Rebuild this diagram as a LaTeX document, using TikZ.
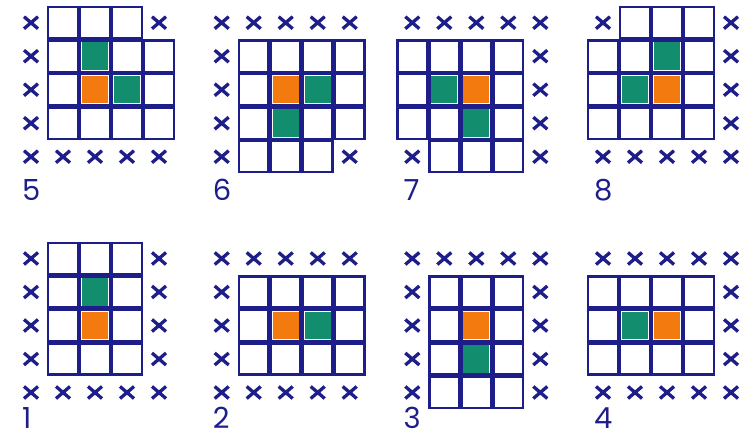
\documentclass[tikz,border=0pt]{standalone}
\usepackage{fontspec}
\newfontfamily\digitfont{Poppins}

\tikzset{
  cellbox/.style={draw=cNavy,line width=2.3pt},
  xmark/.style={draw=cNavy,line width=3.3pt},
  numlabel/.style={anchor=base west,inner sep=0pt,text=cNavy,
    font=\digitfont\fontsize{29}{29}\selectfont},
}

% #1,#2 centre of the top left cell, #3 baseline of the number,
% #4 number, #5 rows (X cross, B box, G green, O orange)
\newcommand\gridpanel[5]{%
  \begin{scope}[shift={(#1,#2)}]
    \foreach \cells [count=\ri from 0] in {#5} {
      \foreach \kind [count=\ci from 0] in \cells {
        \begin{scope}[shift={({32*\ci},{33.5*\ri})}]
          \if\kind X
            \draw[xmark] (-7,-6) -- (7,6) (-7,6) -- (7,-6);
          \else
            \if\kind G \fill[cGreen] (-13,-13.7) rectangle (13,13.7); \fi
            \if\kind O \fill[cOrange] (-13,-13.7) rectangle (13,13.7); \fi
            \draw[cellbox] (-14.85,-15.6) rectangle (14.85,15.6);
          \fi
        \end{scope}
      }
    }
    \node[numlabel] (num#4) at (-9,#3) {#4};
  \end{scope}}

\begin{document}
\begin{tikzpicture}[x=1pt,y=-1pt]
  \definecolor{cNavy}{RGB}{30,30,138}
  \definecolor{cGreen}{RGB}{18,142,110}
  \definecolor{cOrange}{RGB}{242,122,14}

  \fill[white] (0,0) rectangle (743,443);
  \useasboundingbox (0,0) rectangle (743,443);

  % top row
  \gridpanel{31}{22.7}{178}{5}{{X,B,B,B,X},{X,B,G,B,B},{X,B,O,G,B},{X,B,B,B,B},{X,X,X,X,X}}
  \gridpanel{221.7}{22.7}{178}{6}{{X,X,X,X,X},{X,B,B,B,B},{X,B,O,G,B},{X,B,G,B,B},{X,B,B,B,X}}
  \gridpanel{412.3}{22.7}{178}{7}{{X,X,X,X,X},{B,B,B,B,X},{B,G,O,B,X},{B,B,G,B,X},{X,B,B,B,X}}
  \gridpanel{603}{22.7}{178}{8}{{X,B,B,B,X},{B,B,G,B,X},{B,G,O,B,X},{B,B,B,B,X},{X,X,X,X,X}}

  % bottom row
  \gridpanel{31}{258.5}{169.5}{1}{{X,B,B,B,X},{X,B,G,B,X},{X,B,O,B,X},{X,B,B,B,X},{X,X,X,X,X}}
  \gridpanel{221.7}{258.5}{169.5}{2}{{X,X,X,X,X},{X,B,B,B,B},{X,B,O,G,B},{X,B,B,B,B},{X,X,X,X,X}}
  \gridpanel{412.3}{258.5}{169.5}{3}{{X,X,X,X,X},{X,B,B,B,X},{X,B,O,B,X},{X,B,G,B,X},{X,B,B,B,X}}
  \gridpanel{603}{258.5}{169.5}{4}{{X,X,X,X,X},{B,B,B,B,X},{B,G,O,B,X},{B,B,B,B,X},{X,X,X,X,X}}
\end{tikzpicture}
\end{document}
